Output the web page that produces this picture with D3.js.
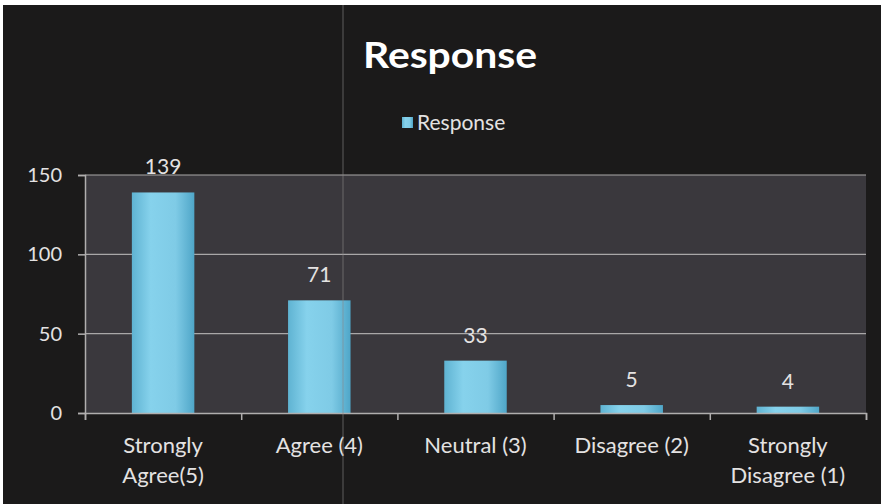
<!DOCTYPE html>
<html><head><meta charset="utf-8">
<script src="https://cdn.jsdelivr.net/npm/d3@7"></script>
<style>body{margin:0;background:#fff;} svg{display:block;}</style>
</head><body>
<script>
const categories = [["Strongly","Agree(5)"],["Agree (4)"],["Neutral (3)"],["Disagree (2)"],["Strongly","Disagree (1)"]];
const values = [139, 71, 33, 5, 4];
const yTicks = [0, 50, 100, 150];
const seriesName = "Response";
const titleText = "Response";

const W = 881, H = 504;
const svg = d3.select("body").append("svg").attr("width", W).attr("height", H);
const defs = svg.append("defs");
const g1 = defs.append("linearGradient").attr("id","barg").attr("x1",0).attr("x2",1).attr("y1",0).attr("y2",0);
g1.append("stop").attr("offset","0%").attr("stop-color","#5fb3d2");
g1.append("stop").attr("offset","30%").attr("stop-color","#86d2ec");
g1.append("stop").attr("offset","70%").attr("stop-color","#7fcbe6");
g1.append("stop").attr("offset","100%").attr("stop-color","#4fa6c8");

svg.append("rect").attr("x",3).attr("y",5).attr("width",W-3).attr("height",H-5).attr("fill","#1b1a1a");

const m = {l:85, r:866, t:175, b:413};
svg.append("rect").attr("x",m.l).attr("y",m.t).attr("width",m.r-m.l).attr("height",m.b-m.t).attr("fill","#3a383d");

const x = d3.scaleBand().domain(d3.range(categories.length)).range([m.l, m.r]).paddingInner(0.6).paddingOuter(0.3);
const y = d3.scaleLinear().domain([0,150]).range([m.b, m.t]);

const font = "Lato, 'Open Sans', sans-serif";
const txt = "#e4e2e2";

// gridlines
svg.append("g").selectAll("line").data(yTicks.filter(d=>d>0)).join("line")
  .attr("x1",m.l).attr("x2",m.r).attr("y1",d=>y(d)).attr("y2",d=>y(d))
  .attr("stroke","#a9a7a8").attr("stroke-width",1.2);

// y axis
const ya = svg.append("g").attr("transform",`translate(${m.l},0)`)
  .call(d3.axisLeft(y).tickValues(yTicks).tickSize(7).tickPadding(16));
ya.select(".domain").attr("stroke","#b0aeae").attr("stroke-width",1.5);
ya.selectAll(".tick line").attr("stroke","#b0aeae").attr("stroke-width",1.5);
ya.selectAll("text").attr("fill",txt).attr("font-size",20).attr("font-family",font);

// bars
svg.append("g").selectAll("rect").data(values).join("rect")
  .attr("x",(d,i)=>x(i)).attr("width",x.bandwidth())
  .attr("y",d=>y(d)).attr("height",d=>y(0)-y(d))
  .attr("fill","url(#barg)");

// value labels
svg.append("g").selectAll("text").data(values).join("text")
  .attr("x",(d,i)=>x(i)+x.bandwidth()/2).attr("y",d=>y(d)-18)
  .attr("text-anchor","middle").attr("fill",txt).attr("font-size",21).attr("font-family",font)
  .text(d=>d);

// x axis
const xo = d3.scaleLinear().domain([0,categories.length]).range([m.l,m.r]);
const xa = svg.append("g").attr("transform",`translate(0,${m.b})`)
  .call(d3.axisBottom(xo).tickValues(d3.range(categories.length+1)).tickSize(7).tickFormat(""));
xa.select(".domain").attr("stroke","#b0aeae").attr("stroke-width",1.5);
xa.selectAll(".tick line").attr("stroke","#b0aeae").attr("stroke-width",1.5);

const cl = svg.append("g").selectAll("text").data(categories).join("text")
  .attr("x",(d,i)=>x(i)+x.bandwidth()/2).attr("y",453)
  .attr("text-anchor","middle").attr("fill",txt).attr("font-size",22).attr("font-family",font);
cl.selectAll("tspan").data(d=>d).join("tspan")
  .attr("x",function(){return this.parentNode.getAttribute("x");})
  .attr("dy",(d,j)=>j===0?0:30).text(d=>d);

// title
svg.append("text").attr("x",450).attr("y",68).attr("text-anchor","middle")
  .attr("fill","#ffffff").attr("font-size",37).attr("font-weight","bold").attr("font-family",font)
  .attr("textLength",174).attr("lengthAdjust","spacingAndGlyphs")
  .text(titleText);

// legend
svg.append("rect").attr("x",402).attr("y",117).attr("width",11).attr("height",11).attr("fill","url(#barg)");
svg.append("text").attr("x",417).attr("y",130).attr("fill",txt).attr("font-size",21).attr("font-family",font).text(seriesName);

// scan artifact vertical line
svg.append("line").attr("x1",343).attr("x2",343).attr("y1",5).attr("y2",H).attr("stroke","#8a8888").attr("stroke-width",1).attr("opacity",0.6);
</script>
</body></html>
